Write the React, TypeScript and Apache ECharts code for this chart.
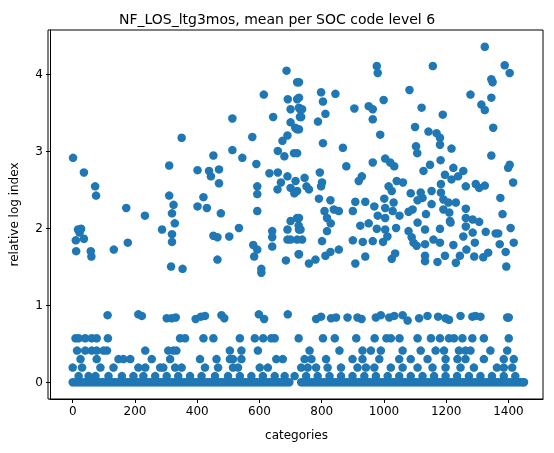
import React, { useEffect, useRef } from 'react';
import * as echarts from 'echarts';

// upper cluster (relative log index > 1.4)
const upperX = [1, 36, 72, 75, 172, 232, 17, 10, 11, 27, 22, 36, 58, 60, 132, 177, 350, 310, 310, 324, 319, 328, 287, 319, 319, 316, 353,
  401, 438, 470, 444, 470, 452, 420, 401, 431, 476, 513, 513, 545, 577, 590, 614, 644, 632, 593, 593, 593, 534, 452, 465, 503, 465,
  580, 593, 583, 641, 641, 641, 606, 606, 685, 687, 721, 691, 721, 700, 730, 730, 700, 715, 721, 690, 674, 659, 680, 711,
  659, 690, 716, 669, 700, 658, 712, 700, 721, 690, 726, 690, 721, 700, 726,
  1324, 977, 980, 1157, 1388, 1404, 727, 1345, 1349, 798, 804, 844, 727, 727, 1082, 1278, 1345, 737, 734, 812, 905, 951, 964, 999,
  1121, 1189, 1313, 1324, 964, 788, 727, 988, 1100, 1143, 1169, 1180, 1180, 1351, 804, 868, 1103, 1107, 1217, 721, 1345, 879, 964,
  1004, 1020, 1033, 1148, 1127, 1182, 1404, 1399, 1196, 1223, 1255, 1217, 1238, 745, 751, 759, 794, 801, 798, 929, 919, 1015, 1025,
  1041, 1061, 1183, 1183, 1263, 1295, 1306, 1324, 1415, 791, 828, 721, 908, 900, 940, 969, 1001, 1031, 1004, 1028, 1086, 1118, 1124,
  1153, 1108, 1153, 1191, 1207, 1231, 1263, 1374, 809, 817, 839, 855, 829, 727, 727, 980, 1004, 1050, 1079, 1092, 1135, 1191, 1210,
  1212, 1263, 1285, 1306, 1381, 924, 951, 977, 1004, 1039, 1079, 1108, 1132, 1180, 1214, 1263, 1285, 1327, 1359, 1407, 732, 737, 801,
  817, 900, 932, 964, 997, 1011, 1089, 1095, 1132, 1159, 1180, 1223, 1255, 1292, 1367, 1372, 1417, 727, 780, 812, 828, 855, 759, 908,
  940, 1025, 1036, 1105, 1132, 1132, 1172, 1196, 1231, 1244, 1265, 1290, 1319, 1335, 1391, 1393];
const upperY = [2.91, 2.72, 2.54, 2.42, 2.26, 2.16, 1.98, 1.84, 1.7, 1.99, 1.94, 1.86, 1.7, 1.63, 1.72, 1.81, 3.17, 2.81, 2.42, 2.3, 2.19, 2.06, 1.98, 1.92, 1.82, 1.5, 1.47,
  2.75, 2.74, 2.76, 2.67, 2.58, 2.94, 2.4, 2.28, 2.26, 2.19, 3.42, 3.01, 2.91, 3.18, 2.83, 3.73, 3.44, 2.71, 2.54, 2.44, 2.22, 2.0, 1.9, 1.88, 1.89, 1.59,
  1.78, 1.72, 1.63, 1.96, 1.88, 1.76, 1.47, 1.42, 1.58, 4.04, 3.89, 3.67, 3.67, 3.54, 3.54, 3.44, 3.37, 3.3, 3.28, 3.2, 3.13, 3.0, 2.93, 2.97,
  2.72, 2.67, 2.61, 2.59, 2.52, 2.5, 2.45, 2.09, 2.13, 1.98, 2.03, 1.85, 1.85, 1.85, 1.66,
  4.35, 4.1, 4.01, 4.1, 4.11, 4.01, 3.89, 3.93, 3.89, 3.76, 3.64, 3.74, 3.69, 3.56, 3.79, 3.73, 3.69, 3.54, 3.44, 3.48, 3.55, 3.58, 3.54, 3.66,
  3.56, 3.47, 3.6, 3.53, 3.41, 3.38, 3.28, 3.21, 3.31, 3.25, 3.23, 3.17, 3.08, 3.3, 3.1, 3.04, 3.06, 2.97, 3.03, 2.97, 2.94, 2.8, 2.85,
  2.9, 2.85, 2.8, 2.82, 2.74, 2.88, 2.82, 2.78, 2.69, 2.78, 2.74, 2.63, 2.67, 2.65, 2.54, 2.5, 2.72, 2.59, 2.54, 2.67, 2.61, 2.54, 2.48,
  2.61, 2.59, 2.57, 2.46, 2.54, 2.57, 2.52, 2.55, 2.59, 2.38, 2.36, 2.48, 2.34, 2.22, 2.34, 2.28, 2.38, 2.33, 2.26, 2.22, 2.45, 2.46, 2.39,
  2.48, 2.36, 2.31, 2.37, 2.33, 2.33, 2.25, 2.39, 2.22, 2.13, 2.24, 2.22, 2.06, 2.13, 1.98, 2.16, 2.13, 2.16, 2.21, 2.24, 2.18, 2.24, 2.2,
  2.09, 2.13, 2.11, 2.08, 2.18, 2.03, 2.06, 1.99, 1.98, 2.0, 1.96, 2.07, 1.98, 1.99, 2.07, 2.02, 1.94, 1.95, 1.93, 2.0, 1.98, 1.85, 1.83,
  1.96, 1.84, 1.82, 1.83, 1.82, 1.89, 1.88, 1.81, 1.79, 1.85, 1.81, 1.78, 1.89, 1.81, 1.93, 1.79, 1.81, 1.66, 1.59, 1.64, 1.69, 1.72, 1.54, 1.54,
  1.63, 1.6, 1.67, 1.77, 1.64, 1.57, 1.56, 1.64, 1.55, 1.64, 1.72, 1.63, 1.62, 1.68, 1.69, 1.5];

// lower bands: x positions per level
const band085X = [112, 211, 222, 302, 318, 331, 395, 412, 425, 478, 487, 598, 615, 691, 782, 798, 830, 846, 883, 915, 928, 974, 990, 1017,
  1033, 1060, 1076, 1113, 1140, 1174, 1198, 1209, 1246, 1284, 1294, 1310, 1396, 1401];
const band085Y = [0.87, 0.88, 0.86, 0.83, 0.83, 0.84, 0.82, 0.85, 0.86, 0.87, 0.83, 0.88, 0.82, 0.88, 0.82, 0.85, 0.83, 0.84, 0.84, 0.84, 0.82,
  0.84, 0.87, 0.84, 0.86, 0.87, 0.8, 0.83, 0.86, 0.85, 0.83, 0.81, 0.86, 0.85, 0.86, 0.85, 0.84, 0.84];
const band057X = [9, 19, 40, 61, 77, 113, 345, 361, 420, 452, 537, 585, 612, 638, 649, 726, 804, 842, 911, 970, 1008, 1022, 1050, 1108, 1151,
  1180, 1209, 1225, 1252, 1284, 1321, 1401];
const band041X = [14, 40, 61, 77, 99, 110, 233, 307, 323, 333, 505, 542, 595, 761, 857, 931, 958, 990, 1060, 1118, 1166, 1193, 1241, 1262,
  1278, 1342, 1396];
const band030X = [25, 77, 147, 163, 185, 254, 313, 409, 462, 505, 515, 542, 654, 675, 745, 767, 814, 899, 931, 985, 1049, 1086, 1140, 1198,
  1236, 1262, 1321, 1385, 1417];
const band019X = [0, 30, 89, 131, 211, 233, 281, 291, 329, 350, 425, 467, 515, 531, 601, 627, 734, 755, 782, 819, 862, 915, 942, 969, 1022,
  1060, 1108, 1156, 1198, 1246, 1289, 1363, 1385, 1412];
const band008X = [19, 51, 73, 115, 158, 195, 227, 265, 302, 339, 377, 414, 457, 499, 537, 574, 611, 649, 681, 713, 750, 787, 825, 862, 899,
  937, 974, 1012, 1049, 1086, 1124, 1161, 1198, 1235, 1273, 1310, 1347, 1385, 1422];
const zeroX = [0, 8, 16, 24, 32, 40, 48, 56, 64, 72, 80, 88, 96, 104, 112, 120, 128, 136, 144, 152, 160, 168, 176, 184, 192, 200, 208, 216,
  224, 232, 240, 248, 256, 264, 272, 280, 288, 296, 304, 312, 320, 328, 336, 344, 352, 360, 368, 376, 384, 392, 400, 408, 416, 424, 432,
  440, 448, 456, 464, 472, 480, 488, 496, 504, 512, 520, 528, 536, 544, 552, 560, 568, 576, 584, 592, 600, 608, 616, 624, 632, 640, 648,
  656, 664, 672, 680, 688, 696, 734, 742, 750, 758, 766, 774, 782, 790, 798, 806, 814, 822, 830, 838, 846, 854, 862, 870, 878, 886, 894,
  902, 910, 918, 926, 934, 942, 950, 958, 966, 974, 982, 990, 998, 1006, 1014, 1022, 1030, 1038, 1046, 1054, 1062, 1070, 1078, 1086,
  1094, 1102, 1110, 1118, 1126, 1134, 1142, 1150, 1158, 1166, 1174, 1182, 1190, 1198, 1206, 1214, 1222, 1230, 1238, 1246, 1254, 1262,
  1270, 1278, 1286, 1294, 1302, 1310, 1318, 1326, 1334, 1342, 1350, 1358, 1366, 1374, 1382, 1390, 1398, 1406, 1414, 1422, 1430, 1438,
  1446, 1450];

const xTicks = [0, 200, 400, 600, 800, 1000, 1200, 1400];
const yTicks = [0, 1, 2, 3, 4];

export default function App(): React.ReactElement {
  const ref = useRef<HTMLDivElement>(null);

  useEffect(() => {
    if (!ref.current) return;
    const chart = echarts.init(ref.current, null, { renderer: 'svg' });
    const pts: number[][] = [];
    upperX.forEach((x, i) => pts.push([x, upperY[i]]));
    band085X.forEach((x, i) => pts.push([x, band085Y[i]]));
    band057X.forEach((x) => pts.push([x, 0.57]));
    band041X.forEach((x) => pts.push([x, 0.41]));
    band030X.forEach((x) => pts.push([x, 0.3]));
    band019X.forEach((x) => pts.push([x, 0.19]));
    band008X.forEach((x) => pts.push([x, 0.08]));
    zeroX.forEach((x) => pts.push([x, 0]));

    const axisText = { color: '#000', fontFamily: 'DejaVu Sans', fontSize: 12 };
    chart.setOption({
      animation: false,
      textStyle: { fontFamily: 'DejaVu Sans' },
      title: {
        text: 'NF_LOS_ltg3mos, mean per SOC code level 6',
        left: 'center',
        top: 7,
        textStyle: { fontFamily: 'DejaVu Sans', fontSize: 14, fontWeight: 'normal', color: '#000' },
      },
      grid: { left: 48, right: 11, top: 30, bottom: 54 },
      xAxis: {
        type: 'value',
        min: -73,
        max: 1511,
        name: 'categories',
        nameLocation: 'middle',
        nameGap: 30,
        nameTextStyle: { ...axisText },
        axisLine: { onZero: false, lineStyle: { color: '#000' } },
        axisTick: { show: true, inside: false, length: 4, customValues: xTicks, lineStyle: { color: '#000' } },
        axisLabel: { ...axisText, customValues: xTicks, margin: 6, formatter: (v: number) => String(v) },
        splitLine: { show: false },
      },
      yAxis: {
        type: 'value',
        min: -0.2175,
        max: 4.5675,
        name: 'relative log index',
        nameLocation: 'middle',
        nameGap: 30,
        nameTextStyle: { ...axisText },
        axisLine: { show: true, onZero: false, lineStyle: { color: '#000' } },
        axisTick: { show: true, length: 4, customValues: yTicks, lineStyle: { color: '#000' } },
        axisLabel: { ...axisText, customValues: yTicks, margin: 7, formatter: (v: number) => String(v) },
        splitLine: { show: false },
      },
      series: [
        {
          type: 'scatter',
          data: pts,
          symbolSize: 8.5,
          itemStyle: { color: '#1f77b4', opacity: 1 },
        },
      ],
      graphic: [
        { type: 'rect', shape: { x: 48, y: 30, width: 495, height: 369 }, style: { fill: 'none', stroke: '#000', lineWidth: 1 }, silent: true },
      ],
    });
    return () => chart.dispose();
  }, []);

  return <div ref={ref} style={{ position: 'fixed', left: 0, top: 0, width: 554, height: 453 }} />;
}
